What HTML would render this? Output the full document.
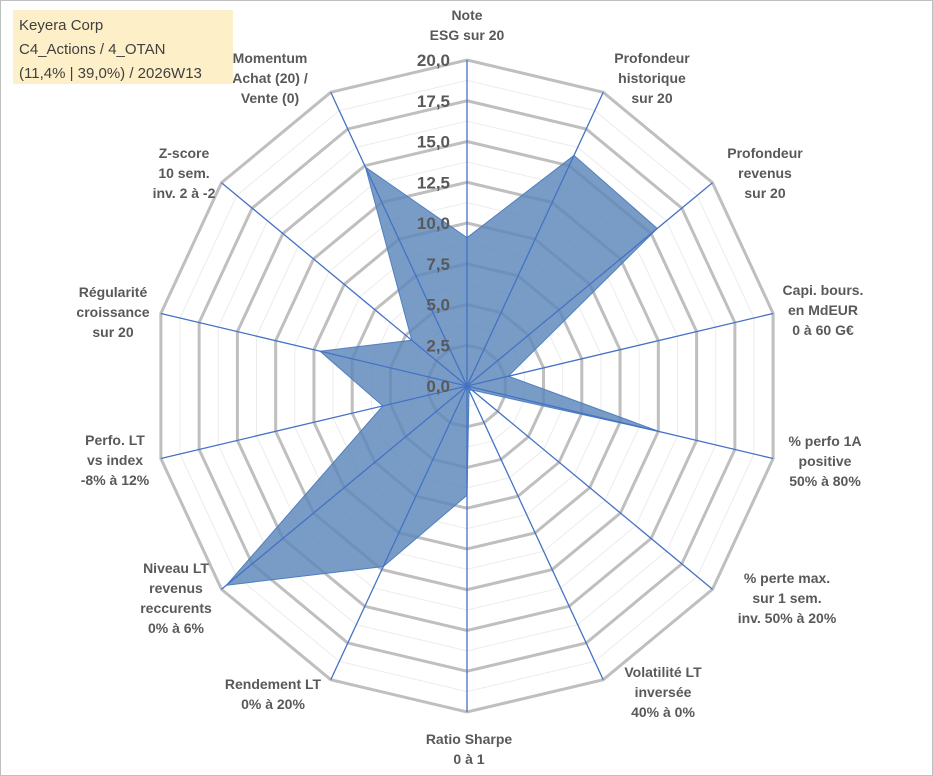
<!DOCTYPE html>
<html><head><meta charset="utf-8"><style>
html,body{margin:0;padding:0;background:#fff}
svg{display:block;font-family:"Liberation Sans",Arial,sans-serif}
</style></head><body>
<svg width="933" height="776" viewBox="0 0 933 776">
<rect x="0.5" y="0.5" width="932" height="775" fill="#fff" stroke="#bfbfbf"/>
<g id="grid"></g>
<polygon id="series" fill="#5b86bb" fill-opacity="0.82" stroke="#4f7fbf" stroke-width="1"/>
<g id="spokes"></g>
<g id="ticks" font-size="17" font-weight="bold" fill="#595959" text-anchor="end"></g>
<g id="labels" font-size="14" font-weight="bold" fill="#595959" text-anchor="middle"></g>
<g>
<rect x="13" y="10" width="220" height="74" fill="#fdefc8"/>
<text x="19" y="30" font-size="15" fill="#404040">Keyera Corp</text>
<text x="19" y="54" font-size="15" fill="#404040">C4_Actions / 4_OTAN</text>
<text x="19" y="78" font-size="15" fill="#404040">(11,4% | 39,0%) / 2026W13</text>
</g>
</svg>
<script>
const categories = ["Note ESG sur 20","Profondeur historique sur 20","Profondeur revenus sur 20","Capi. bours. en MdEUR 0 à 60 G€","% perfo 1A positive 50% à 80%","% perte max. sur 1 sem. inv. 50% à 20%","Volatilité LT inversée 40% à 0%","Ratio Sharpe 0 à 1","Rendement LT 0% à 20%","Niveau LT revenus reccurents 0% à 6%","Perfo. LT vs index -8% à 12%","Régularité croissance sur 20","Z-score 10 sem. inv. 2 à -2","Momentum Achat (20) / Vente (0)"];
const labelLines = [["Note","ESG sur 20"],["Profondeur","historique","sur 20"],["Profondeur","revenus","sur 20"],["Capi. bours.","en MdEUR","0 à 60 G€"],["% perfo 1A","positive","50% à 80%"],["% perte max.","sur 1 sem.","inv. 50% à 20%"],["Volatilité LT","inversée","40% à 0%"],["Ratio Sharpe","0 à 1"],["Rendement LT","0% à 20%"],["Niveau LT","revenus","reccurents","0% à 6%"],["Perfo. LT","vs index","-8% à 12%"],["Régularité","croissance","sur 20"],["Z-score","10 sem.","inv. 2 à -2"],["Momentum","Achat (20) /","Vente (0)"]];
const values = [9.1,15.7,15.5,2.7,12.6,0.4,0.3,6.7,12.3,19.6,5.5,9.6,4.5,14.9];
const tickValues = [0,2.5,5,7.5,10,12.5,15,17.5,20];
const tickLabels = ["0,0","2,5","5,0","7,5","10,0","12,5","15,0","17,5","20,0"];
const maxV = 20;
const cx=467, cy=386, RX=314, RY=326;
const labelX=[467,652,765,823,825,787,663,469,273,176,115,113,184,270];
const labelY=[20,63,158,295,446,583,677,744,689,573,445,297,158,63];
const NS="http://www.w3.org/2000/svg";
const N=categories.length;
function ang(i){return -Math.PI/2 + i*2*Math.PI/N;}
function pt(i,v){const r=v/maxV;return [cx+r*RX*Math.cos(ang(i)), cy+r*RY*Math.sin(ang(i))];}
function mk(tag,attrs,parent){const e=document.createElementNS(NS,tag);for(const k in attrs)e.setAttribute(k,attrs[k]);parent.appendChild(e);return e;}
const grid=document.getElementById('grid');
for(let v=1.25; v<=maxV+0.01; v+=1.25){
  const major=Math.abs(v/2.5-Math.round(v/2.5))<0.01;
  const p=[];for(let i=0;i<N;i++)p.push(pt(i,v).join(','));
  const g=mk('polygon',{points:p.join(' '),fill:'none',stroke:major?'#bfbfbf':'#ececec','stroke-width':major?3:1},grid);
  
  
}
document.getElementById('series').setAttribute('points',values.map((v,i)=>pt(i,v).join(',')).join(' '));
const spokes=document.getElementById('spokes');
for(let i=0;i<N;i++){
  const [x,y]=pt(i,maxV);
  const l=mk('line',{x1:cx,y1:cy,x2:x,y2:y,stroke:'#4472c4','stroke-width':1.3},spokes);
  
  
}
const ticks=document.getElementById('ticks');
tickValues.forEach((v,k)=>{
  const [x,y]=pt(0,v);
  const t=mk('text',{x:x-17,y:y+6},ticks);t.textContent=tickLabels[k];
  
  
});
const labels=document.getElementById('labels');
labelLines.forEach((lines,i)=>{
  const x=labelX[i], y0=labelY[i];
  const t=mk('text',{x:x,y:y0},labels);
  
  
  lines.forEach((ln,j)=>{const sp=mk('tspan',{x:x,y:y0+j*20},t);sp.textContent=ln;});
});
</script>
</body></html>
